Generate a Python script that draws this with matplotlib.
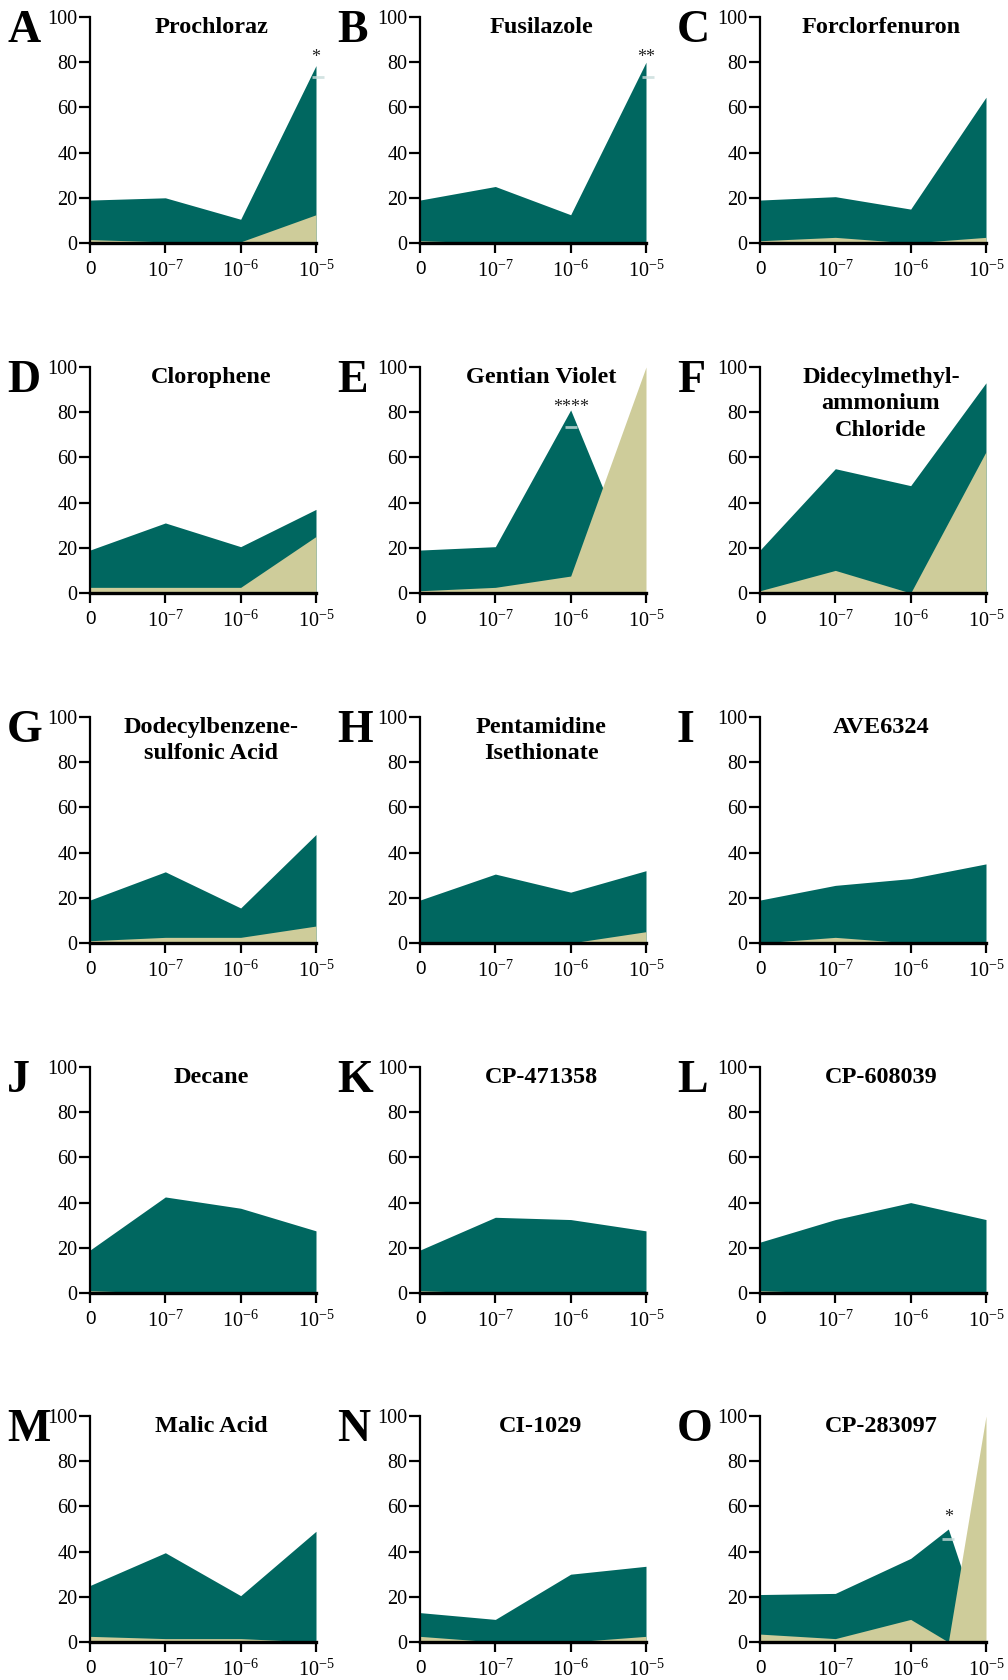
import matplotlib
matplotlib.use("Agg")
import matplotlib.pyplot as plt
import matplotlib.transforms as mtrans

plt.rcParams['font.family'] = ['Liberation Serif', 'DejaVu Serif']
plt.rcParams['mathtext.fontset'] = 'custom'
plt.rcParams['mathtext.rm'] = 'Liberation Serif'
plt.rcParams['mathtext.it'] = 'Liberation Serif:italic'
plt.rcParams['mathtext.bf'] = 'Liberation Serif:bold'

# ---------------- data ----------------
letters = list("ABCDEFGHIJKLMNO")
titles = ["Prochloraz", "Fusilazole", "Forclorfenuron",
          "Clorophene", "Gentian Violet", "Didecylmethyl-\nammonium\nChloride",
          "Dodecylbenzene-\nsulfonic Acid", "Pentamidine\nIsethionate", "AVE6324",
          "Decane", "CP-471358", "CP-608039",
          "Malic Acid", "CI-1029", "CP-283097"]
x_default = [0, 1, 2, 3]
x_O = [0, 1, 2, 2.5, 3]
x_ticks = [0, 1, 2, 3]
x_tick_labels = ["0", r"$\mathregular{10^{-7}}$", r"$\mathregular{10^{-6}}$", r"$\mathregular{10^{-5}}$"]
y_ticks = [0, 20, 40, 60, 80, 100]

teal_vals = [
    [19, 20, 10.5, 78.5],
    [19, 25, 12.5, 80],
    [19, 20.5, 15, 64.5],
    [19, 31, 20.5, 37],
    [19, 20.5, 81, 0],
    [19, 55, 47.5, 93],
    [19, 31.5, 15.5, 48],
    [19, 30.5, 22.5, 32],
    [19, 25.5, 28.5, 35],
    [19, 42.5, 37.5, 27.5],
    [19, 33.5, 32.5, 27.5],
    [22.5, 32.5, 40, 32.5],
    [25, 39.5, 20.5, 49],
    [13, 10, 30, 33.5],
    [21, 21.5, 37, 50, 0],
]
khaki_vals = [
    [1.5, 0.5, 0.5, 12.5],
    [1, 0, 0, 0],
    [1, 2.5, 0, 2.5],
    [2.5, 2.5, 2.5, 25],
    [1, 2.5, 7.5, 100],
    [1, 10, 0, 62.5],
    [1, 2.5, 2.5, 7.5],
    [0.5, 0.5, 0, 5],
    [0, 2.5, 0, 0],
    [1, 0, 0, 0],
    [1, 0, 0, 0],
    [1, 0, 0, 0],
    [2.5, 1.5, 1.5, 0],
    [2.5, 0, 0, 2.5],
    [3.5, 1.5, 10, 0, 100],
]
# significance marks per panel index
sig_x = {0: 3, 1: 3, 4: 2, 14: 2.5}
sig_y = {0: 82, 1: 82, 4: 82.3, 14: 55}
sig_text = {0: "*", 1: "**", 4: "****", 14: "*"}
# faint error-cap marks per panel index
cap_x = {0: 3.03, 1: 3.03, 4: 2, 14: 2.5}
cap_y = {0: 73.5, 1: 73.5, 4: 73.6, 14: 45.4}

TEAL = "#006760"
KHAKI = "#CECC9A"
CAP = "#C9DDDB"

W, H = 1008, 1680
fig = plt.figure(figsize=(W / 100, H / 100), dpi=100)
lefts = [90, 420, 760]
tops = [17, 367, 717, 1067, 1416]
aw, ah = 226, 226

for i in range(15):
    r, c = divmod(i, 3)
    l, t = lefts[c], tops[r]
    ax = fig.add_axes([l / W, 1 - (t + ah) / H, aw / W, ah / H])
    xs = x_O if i == 14 else x_default
    ax.fill_between(xs, 0, teal_vals[i], color=TEAL, lw=0, zorder=1)
    ax.fill_between(xs, 0, khaki_vals[i], color=KHAKI, lw=0, zorder=1.2)
    if i in cap_x:
        ax.plot([cap_x[i]], [cap_y[i]], marker="_", ms=9, mew=2.0, color=CAP,
                alpha=0.8, zorder=1.5, clip_on=False)
        ax.text(sig_x[i], sig_y[i], sig_text[i], ha="center", va="center",
                fontsize=13, color="#222222")
    ax.set_xlim(0, 3)
    ax.set_ylim(0, 100)
    for s in ["top", "right"]:
        ax.spines[s].set_visible(False)
    ax.spines["left"].set_linewidth(1.6)
    ax.spines["bottom"].set_linewidth(2.4)
    ax.spines["left"].set_zorder(3)
    ax.spines["bottom"].set_zorder(3)
    ax.set_yticks(y_ticks)
    ax.set_yticklabels([str(v) for v in y_ticks])
    ax.set_xticks(x_ticks)
    ax.set_xticklabels(x_tick_labels)
    ax.tick_params(axis="y", direction="out", length=8, width=1.6, pad=1,
                   labelsize=14.5, color="black")
    ax.tick_params(axis="x", direction="out", length=7, width=1.6, pad=6,
                   labelsize=14.5, color="black")
    xl = ax.get_xticklabels()
    xl[0].set_fontfamily("Liberation Sans")
    xl[0].set_fontsize(13.5)
    toff = mtrans.ScaledTranslation(8 / 100, -1 / 100, fig.dpi_scale_trans)
    ax.text(0.5, 1.005, titles[i], transform=ax.transAxes + toff, ha="center",
            va="top", fontsize=17.5, fontweight="bold", linespacing=1.35)
    off = mtrans.ScaledTranslation(-83 / 100, -25 / 100, fig.dpi_scale_trans)
    ax.text(0, 1, letters[i], transform=ax.transAxes + off, ha="left",
            va="baseline", fontsize=33, fontweight="bold")

fig.savefig("out.png", dpi=100)
